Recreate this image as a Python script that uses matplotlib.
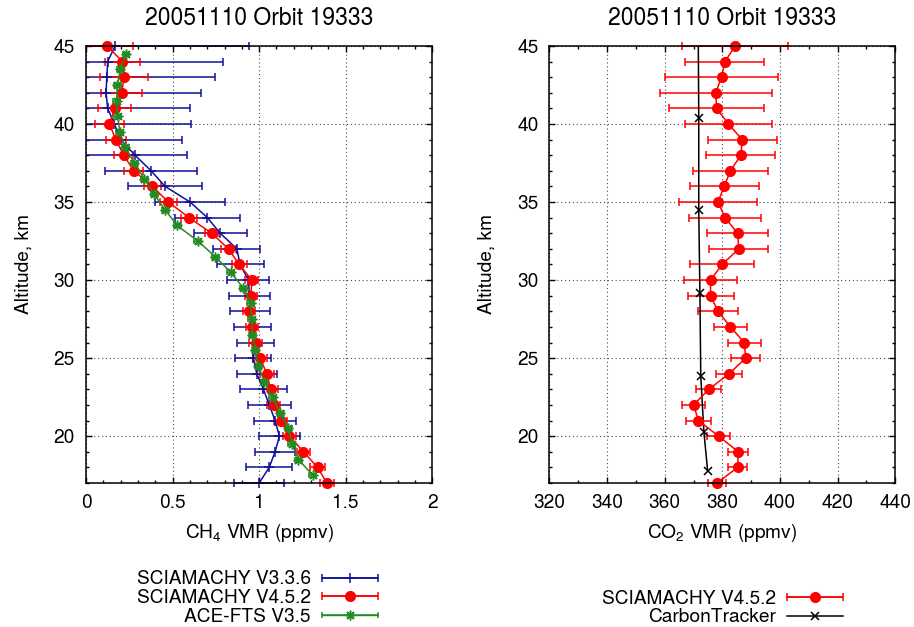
import matplotlib
matplotlib.use("Agg")
import matplotlib.pyplot as plt
from matplotlib.container import ErrorbarContainer
from matplotlib.legend_handler import HandlerErrorbar
from matplotlib.ticker import MultipleLocator, FormatStrFormatter
from matplotlib.transforms import Bbox, TransformedBbox

plt.rcParams["font.family"] = "TeX Gyre Heros"
plt.rcParams["mathtext.default"] = "regular"
plt.rcParams["font.size"] = 13.8

TITLE = "20051110 Orbit 19333"

# SCIAMACHY retrieval altitudes (km)
alt_sci = [45, 44, 43, 42, 41, 40, 39, 38, 37, 36, 35, 34, 33, 32, 31,
           30, 29, 28, 27, 26, 25, 24, 23, 22, 21, 20, 19, 18, 17]

# CH4, SCIAMACHY V3.3.6 (ppmv)
ch4_v336 = [0.168, 0.125, 0.120, 0.116, 0.125, 0.164, 0.200, 0.283, 0.376, 0.457,
            0.601, 0.701, 0.775, 0.871, 0.890, 0.938, 0.944, 0.948, 0.962, 0.977,
            0.967, 0.986, 1.025, 1.058, 1.092, 1.117, 1.092, 1.058, 1.000]
ch4_v336_err = [0.776, 0.665, 0.624, 0.547, 0.478, 0.443, 0.353, 0.300, 0.265, 0.213,
                0.202, 0.188, 0.153, 0.136, 0.136, 0.121, 0.118, 0.116, 0.107, 0.106,
                0.104, 0.115, 0.135, 0.125, 0.120, 0.116, 0.116, 0.132, 0.143]

# CH4, SCIAMACHY V4.5.2 (ppmv)
ch4_v452 = [0.123, 0.210, 0.220, 0.206, 0.166, 0.135, 0.172, 0.218, 0.276, 0.383,
            0.476, 0.595, 0.726, 0.823, 0.884, 0.958, 0.952, 0.942, 0.958, 0.979,
            1.006, 1.044, 1.066, 1.083, 1.125, 1.175, 1.256, 1.337, 1.391]
ch4_v452_err = [0.147, 0.103, 0.140, 0.120, 0.095, 0.083, 0.058, 0.055, 0.055, 0.050,
                0.050, 0.048, 0.037, 0.042, 0.043, 0.037, 0.034, 0.036, 0.035, 0.038,
                0.040, 0.041, 0.045, 0.036, 0.038, 0.040, 0.040, 0.042, 0.040]

# CH4, ACE-FTS V3.5 (ppmv)
alt_ace = [44.5, 43.5, 42.5, 41.5, 40.5, 39.5, 38.5, 37.5, 36.5, 35.5, 34.5, 33.5,
           32.5, 31.5, 30.5, 29.5, 28.5, 27.5, 26.5, 25.5, 24.5, 23.5, 22.5, 21.5,
           20.5, 19.5, 18.5, 17.5]
ch4_ace = [0.231, 0.198, 0.181, 0.177, 0.183, 0.195, 0.226, 0.280, 0.336, 0.393,
           0.457, 0.526, 0.646, 0.746, 0.836, 0.908, 0.952, 0.958, 0.961, 0.977,
           0.996, 1.029, 1.079, 1.121, 1.169, 1.189, 1.227, 1.310]
ch4_ace_err = [0.02] * len(ch4_ace)

# CO2, SCIAMACHY V4.5.2 (ppmv)
co2_v452 = [384.4, 380.9, 379.7, 377.7, 378.0, 382.1, 386.9, 386.4, 382.8, 380.6,
            378.5, 380.9, 385.3, 385.7, 379.9, 375.9, 375.9, 378.5, 382.8, 387.6,
            388.1, 382.3, 375.3, 370.0, 371.7, 378.7, 385.5, 385.3, 378.2]
co2_v452_err = [18.3, 13.7, 19.6, 19.5, 16.6, 15.2, 12.0, 12.0, 13.1, 12.0,
                13.4, 12.4, 10.6, 10.2, 11.2, 9.3, 8.0, 6.9, 5.8, 5.7,
                5.1, 4.6, 4.3, 3.9, 4.2, 3.9, 3.5, 3.2, 3.1]

# CO2, CarbonTracker (ppmv)
alt_ct = [46.6, 40.41, 34.47, 29.19, 23.84, 20.24, 17.75]
co2_ct = [371.6, 371.8, 371.8, 372.2, 372.5, 373.6, 374.9]

BLUE = "#10109a"
RED = "#ff0000"
GREEN = "#228b22"


def loose_clip(ax, container):
    # clip horizontally at the frame only, so markers/caps on the top and
    # bottom edges stay whole (as gnuplot draws them)
    box = TransformedBbox(Bbox([[0, -0.04], [1, 1.04]]), ax.transAxes)
    for art in container.get_children():
        art.set_clip_box(box)


def style_axes(ax, xlim, xmajor, xminor, xlabel):
    ax.set_xlim(*xlim)
    ax.set_ylim(17, 45)
    ax.xaxis.set_major_locator(MultipleLocator(xmajor))
    ax.xaxis.set_minor_locator(MultipleLocator(xminor))
    ax.xaxis.set_major_formatter(FormatStrFormatter("%g"))
    ax.yaxis.set_major_locator(MultipleLocator(5))
    ax.yaxis.set_minor_locator(MultipleLocator(1))
    ax.tick_params(which="both", direction="in", top=True, right=True, width=1)
    ax.tick_params(which="major", length=4.5)
    ax.tick_params(which="minor", length=2.4)
    ax.tick_params(axis="x", pad=8)
    ax.tick_params(axis="y", pad=8)
    ax.grid(True, which="major", linestyle=(0, (1, 2.5)), color="0.3", linewidth=0.8)
    for sp in ax.spines.values():
        sp.set_linewidth(1.1)
    ax.set_title(TITLE, pad=15)
    ax.set_xlabel(xlabel, labelpad=7)
    ax.set_ylabel("Altitude, km", labelpad=15)


fig = plt.figure(figsize=(9.14, 6.27), dpi=100)
ax1 = fig.add_axes([0.0941, 0.2297, 0.3789, 0.697])
ax2 = fig.add_axes([0.6012, 0.2297, 0.3783, 0.697])

# left panel: CH4
h_v336 = ax1.errorbar(ch4_v336, alt_sci, xerr=ch4_v336_err, color=BLUE, lw=1.1,
                      marker="+", ms=7, mew=1.1, capsize=3, elinewidth=1.1,
                      capthick=1.1, label="SCIAMACHY V3.3.6")
h_v452 = ax1.errorbar(ch4_v452, alt_sci, xerr=ch4_v452_err, color=RED, lw=1.1,
                      marker="o", ms=7, capsize=3, elinewidth=1.1,
                      capthick=1.1, label="SCIAMACHY V4.5.2")
h_ace = ax1.errorbar(ch4_ace, alt_ace, xerr=ch4_ace_err, color=GREEN, lw=1.1,
                     marker=(8, 2, 0), ms=7, mew=1.1, capsize=2.5, elinewidth=1.0,
                     capthick=1.0, label="ACE-FTS V3.5")
for h in (h_v336, h_v452, h_ace):
    loose_clip(ax1, h)
style_axes(ax1, (0, 2), 0.5, 0.1, "CH$_4$ VMR (ppmv)")

# right panel: CO2
h_co2 = ax2.errorbar(co2_v452, alt_sci, xerr=co2_v452_err, color=RED, lw=1.1,
                     marker="o", ms=7, capsize=3, elinewidth=1.1,
                     capthick=1.1, label="SCIAMACHY V4.5.2")
loose_clip(ax2, h_co2)
h_ct, = ax2.plot(co2_ct, alt_ct, color="black", lw=1.1, marker="x", ms=6,
                 mew=1.1, label="CarbonTracker")
style_axes(ax2, (320, 440), 20, 10, "CO$_2$ VMR (ppmv)")

hmap = {ErrorbarContainer: HandlerErrorbar(xerr_size=1.45)}
leg_kw = dict(frameon=False, markerfirst=False, handlelength=2.9,
              handletextpad=0.6, labelspacing=0.04, borderpad=0,
              borderaxespad=0, handler_map=hmap, fontsize=13.8)
fig.legend(handles=[h_v336, h_v452, h_ace], loc="center right",
           bbox_to_anchor=(378 / 914, 1 - 598 / 627), **leg_kw)
fig.legend(handles=[h_co2, h_ct], loc="center right",
           bbox_to_anchor=(843 / 914, 1 - 608 / 627), **leg_kw)

fig.savefig("out.png", dpi=100)
